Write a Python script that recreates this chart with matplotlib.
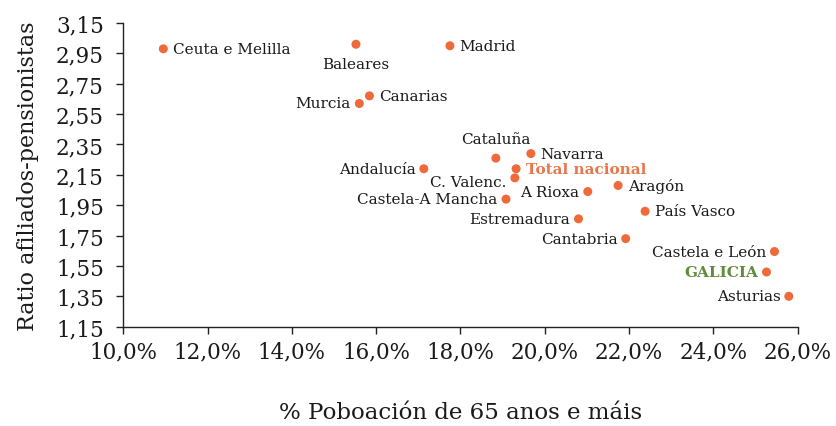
import matplotlib

matplotlib.use("Agg")

import matplotlib.pyplot as plt
from matplotlib.ticker import FuncFormatter

plt.rcParams["font.family"] = ["DejaVu Serif"]

# --- data -------------------------------------------------------------------
regions = [
    "Ceuta e Melilla", "Baleares", "Madrid", "Canarias", "Murcia",
    "Andalucía", "Cataluña", "Navarra", "Total nacional", "C. Valenc.",
    "A Rioxa", "Aragón", "Castela-A Mancha", "País Vasco", "Estremadura",
    "Cantabria", "Castela e León", "GALICIA", "Asturias",
]
pct_65 = [
    10.95, 15.52, 17.75, 15.84, 15.60,
    17.13, 18.84, 19.67, 19.32, 19.29,
    21.02, 21.74, 19.08, 22.38, 20.80,
    21.92, 25.45, 25.26, 25.79,
]
ratio = [
    2.98, 3.01, 3.00, 2.67, 2.62,
    2.19, 2.26, 2.29, 2.19, 2.13,
    2.04, 2.08, 1.99, 1.91, 1.86,
    1.73, 1.645, 1.51, 1.35,
]
y_ticks = [1.15, 1.35, 1.55, 1.75, 1.95, 2.15, 2.35, 2.55, 2.75, 2.95, 3.15]
x_ticks = [10, 12, 14, 16, 18, 20, 22, 24, 26]

# label placement: (dx, dy) in points, horizontal alignment
placement = {
    "Ceuta e Melilla": ((7, 0), "left"),
    "Baleares": ((0, -14), "center"),
    "Madrid": ((7, 0), "left"),
    "Canarias": ((7, 0), "left"),
    "Murcia": ((-6, 0), "right"),
    "Andalucía": ((-6, 0), "right"),
    "Cataluña": ((0, 14), "center"),
    "Navarra": ((7, 0), "left"),
    "Total nacional": ((7, 0), "left"),
    "C. Valenc.": ((-6, -3), "right"),
    "A Rioxa": ((-6, 0), "right"),
    "Aragón": ((7, 0), "left"),
    "Castela-A Mancha": ((-6, 0), "right"),
    "País Vasco": ((7, 0), "left"),
    "Estremadura": ((-6, 0), "right"),
    "Cantabria": ((-6, 0), "right"),
    "Castela e León": ((-6, 0), "right"),
    "GALICIA": ((-6, 0), "right"),
    "Asturias": ((-6, 0), "right"),
}

ORANGE = "#ef6a3a"
GREEN = "#5f8d3b"

fig = plt.figure(figsize=(8.37, 4.27), dpi=100)
ax = fig.add_axes([0.1473, 0.2326, 0.8057, 0.7112])

ax.scatter(pct_65, ratio, s=42, color=ORANGE, edgecolors="none", zorder=3)

for name, x, y in zip(regions, pct_65, ratio):
    (dx, dy), ha = placement[name]
    style = {"color": "#1a1a1a", "fontsize": 11}
    if name == "Total nacional":
        style = {"color": "#e8774c", "fontsize": 11, "fontweight": "bold"}
    elif name == "GALICIA":
        style = {"color": GREEN, "fontsize": 11, "fontweight": "bold"}
    ax.annotate(name, (x, y), xytext=(dx, dy), textcoords="offset points",
                ha=ha, va="center", **style)

ax.set_xlim(10, 26)
ax.set_ylim(1.15, 3.15)
ax.set_xticks(x_ticks)
ax.set_yticks(y_ticks)
ax.xaxis.set_major_formatter(FuncFormatter(lambda v, _: f"{v:.1f}%".replace(".", ",")))
ax.yaxis.set_major_formatter(FuncFormatter(lambda v, _: f"{v:.2f}".replace(".", ",")))
ax.tick_params(axis="both", direction="out", length=5, width=1, labelsize=15.5,
               color="#222222", labelcolor="#1a1a1a")
ax.tick_params(axis="y", pad=9)
ax.tick_params(axis="x", pad=5)

for side in ("top", "right"):
    ax.spines[side].set_visible(False)
for side in ("left", "bottom"):
    ax.spines[side].set_color("#222222")
    ax.spines[side].set_linewidth(1)

ax.set_ylabel("Ratio afiliados-pensionistas", fontsize=16, color="#1a1a1a", labelpad=12)
ax.set_xlabel("% Poboación de 65 anos e máis", fontsize=16.5, color="#1a1a1a", labelpad=28)

fig.savefig("out.png", dpi=100)
